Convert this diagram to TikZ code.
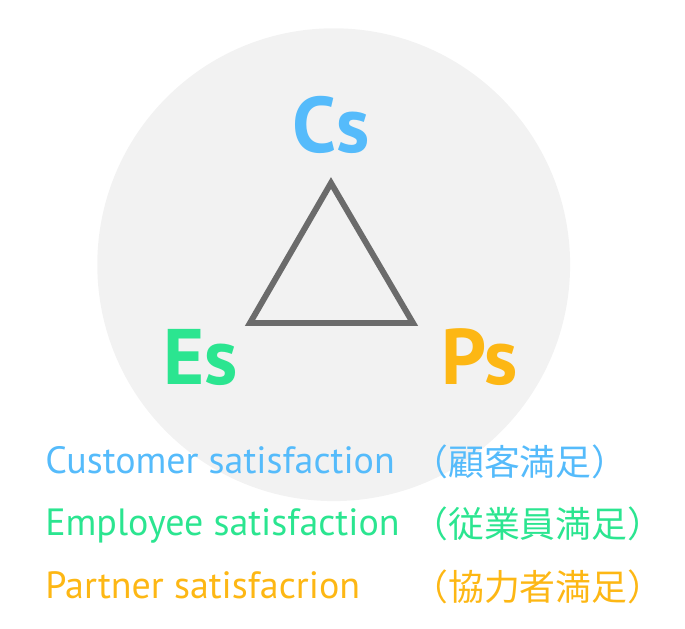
\documentclass[tikz,border=0pt]{standalone}
\usepackage{fontspec}
\setmainfont{PT Sans}
\newfontfamily\jpfont{Noto Sans CJK JP}
\definecolor{csblue}{HTML}{55BBFB}
\definecolor{esgreen}{HTML}{2BE590}
\definecolor{psorange}{HTML}{FDB714}
\definecolor{ringgray}{HTML}{F2F2F2}
\definecolor{trigray}{HTML}{6B6B6B}
\tikzset{
  bigletter/.style={font=\bfseries\fontsize{56}{60}\selectfont, inner sep=0pt, anchor=base west},
  legend/.style={font=\fontsize{27}{32}\selectfont, inner sep=0pt, anchor=base west},
  legendjp/.style={font=\jpfont\fontsize{25.5}{30}\selectfont, inner sep=0pt, anchor=base west}
}
\begin{document}
\begin{tikzpicture}[x=0.025cm,y=-0.025cm]
\useasboundingbox (0,0) rectangle (685,629);

%----- BACKGROUND DISC -----
\fill[ringgray] (333.7,264.7) circle (236.4);

%----- TRIANGLE -----
\coordinate (top) at (331,183);
\coordinate (left) at (250,323);
\coordinate (right) at (413,323);
\draw[trigray, line width=4.2pt, line join=miter] (top) -- (right) -- (left) -- cycle;

%----- CORNER LABELS -----
\node[bigletter, text=csblue, anchor=base] (cs) at (331,153) {Cs};
\node[bigletter, text=esgreen] (es) at (163,385) {Es};
\node[bigletter, text=psorange] (ps) at (441,385) {Ps};

%----- LEGEND -----
\node[legend, text=csblue] (cust) at (45,473) {Customer satisfaction};
\node[legend, text=esgreen] (empl) at (45,535) {Employee satisfaction};
\node[legend, text=psorange] (part) at (45,598) {Partner satisfacrion};

\node[legendjp, text=csblue] (custjp) at (412,475) {（顧客満足）};
\node[legendjp, text=esgreen] (empljp) at (412,537) {（従業員満足）};
\node[legendjp, text=psorange] (partjp) at (412,600) {（協力者満足）};

\end{tikzpicture}
\end{document}
